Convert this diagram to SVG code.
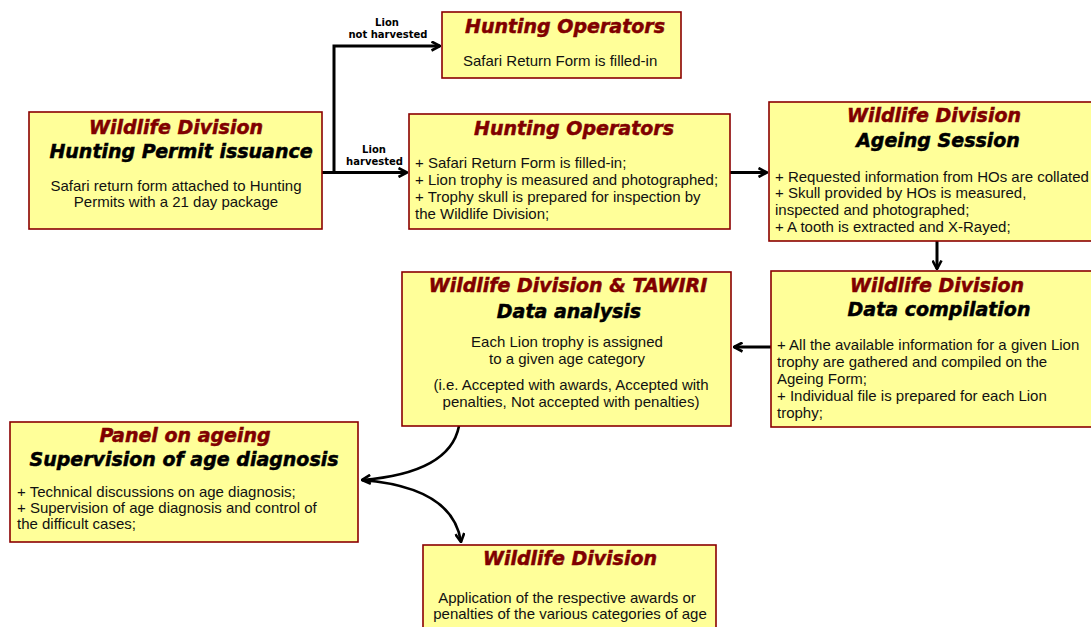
<svg xmlns="http://www.w3.org/2000/svg" width="1091" height="627" viewBox="0 0 1091 627">
<style>
.box{fill:#FFFF99;stroke:#8B0000;stroke-width:1.6}
.t1{font-family:"DejaVu Sans",sans-serif;font-weight:bold;font-style:italic;font-size:19px;fill:#800000;stroke:#800000;stroke-width:0.5;text-anchor:middle}
.t2{font-family:"DejaVu Sans",sans-serif;font-weight:bold;font-style:italic;font-size:19px;fill:#000;stroke:#000;stroke-width:0.5;text-anchor:middle}
.b{font-family:"Liberation Sans",Arial,sans-serif;font-size:15px;fill:#111}
.c{text-anchor:middle}
.lbl{font-family:"DejaVu Sans",sans-serif;font-weight:bold;font-size:10px;fill:#000;text-anchor:middle}
.ln{fill:none;stroke:#000;stroke-width:3}
.cv{fill:none;stroke:#000;stroke-width:2.6}
</style>
<defs>
<marker id="ah" viewBox="0 0 11 11" refX="10" refY="5.5" markerWidth="11" markerHeight="11" markerUnits="userSpaceOnUse" orient="auto">
<path d="M1.5,1 L10,5.5 L1.5,10" fill="none" stroke="#000" stroke-width="2.6"/>
</marker>
</defs>
<rect width="1091" height="627" fill="#fff"/>

<g id="connectors">
<path class="ln" d="M322,172.5 H407" marker-end="url(#ah)"/>
<path class="ln" d="M334,174 V46 H440" marker-end="url(#ah)"/>
<path class="ln" d="M730,172.5 H767" marker-end="url(#ah)"/>
<path class="ln" d="M937,241 V269" marker-end="url(#ah)"/>
<path class="ln" d="M771,347 H734" marker-end="url(#ah)"/>
<path class="cv" d="M459,426 C452,462 412,476 362,480" marker-end="url(#ah)"/>
<path class="cv" d="M362,480 C412,484 455,500 461,542" marker-end="url(#ah)"/>
<text class="lbl" x="387" y="26">Lion</text>
<text class="lbl" x="388" y="38">not harvested</text>
<text class="lbl" x="374" y="153">Lion</text>
<text class="lbl" x="374.5" y="165">harvested</text>
</g>

<g id="permit">
<rect class="box" x="29" y="112" width="293" height="117"/>
<text class="t1" x="176" y="134">Wildlife Division</text>
<text class="t2" x="181" y="158">Hunting Permit issuance</text>
<text class="b c" x="176" y="191">Safari return form attached to Hunting</text>
<text class="b c" x="176" y="207">Permits with a 21 day package</text>
</g>

<g id="ho-not-harvested">
<rect class="box" x="442" y="12" width="239" height="66"/>
<text class="t1" x="565" y="33">Hunting Operators</text>
<text class="b" x="463" y="66">Safari Return Form is filled-in</text>
</g>

<g id="ho-harvested">
<rect class="box" x="409" y="114" width="321" height="115"/>
<text class="t1" x="574" y="135">Hunting Operators</text>
<text class="b" x="415" y="168">+ Safari Return Form is filled-in;</text>
<text class="b" x="415" y="185">+ Lion trophy is measured and photographed;</text>
<text class="b" x="415" y="202">+ Trophy skull is prepared for inspection by</text>
<text class="b" x="415" y="219">the Wildlife Division;</text>
</g>

<g id="ageing">
<rect class="box" x="769" y="102" width="340" height="139"/>
<text class="t1" x="934" y="122">Wildlife Division</text>
<text class="t2" x="938" y="147">Ageing Session</text>
<text class="b" x="775" y="182">+ Requested information from HOs are collated</text>
<text class="b" x="775" y="198">+ Skull provided by HOs is measured,</text>
<text class="b" x="775" y="215">inspected and photographed;</text>
<text class="b" x="775" y="232">+ A tooth is extracted and X-Rayed;</text>
</g>

<g id="compilation">
<rect class="box" x="771" y="271" width="340" height="156"/>
<text class="t1" x="937" y="292">Wildlife Division</text>
<text class="t2" x="939" y="316">Data compilation</text>
<text class="b" x="777" y="350">+ All the available information for a given Lion</text>
<text class="b" x="777" y="367">trophy are gathered and compiled on the</text>
<text class="b" x="777" y="384">Ageing Form;</text>
<text class="b" x="777" y="401">+ Individual file is prepared for each Lion</text>
<text class="b" x="777" y="418">trophy;</text>
</g>

<g id="analysis">
<rect class="box" x="402" y="272" width="329" height="154"/>
<text class="t1" x="568" y="292">Wildlife Division &amp; TAWIRI</text>
<text class="t2" x="569" y="318">Data analysis</text>
<text class="b c" x="567" y="347">Each Lion trophy is assigned</text>
<text class="b c" x="567" y="364">to a given age category</text>
<text class="b c" x="571" y="390">(i.e. Accepted with awards, Accepted with</text>
<text class="b c" x="571" y="407">penalties, Not accepted with penalties)</text>
</g>

<g id="panel">
<rect class="box" x="10" y="422" width="348" height="120"/>
<text class="t1" x="185" y="442">Panel on ageing</text>
<text class="t2" x="184" y="466">Supervision of age diagnosis</text>
<text class="b" x="17" y="497">+ Technical discussions on age diagnosis;</text>
<text class="b" x="17" y="513">+ Supervision of age diagnosis and control of</text>
<text class="b" x="17" y="529">the difficult cases;</text>
</g>

<g id="application">
<rect class="box" x="423" y="545" width="293" height="100"/>
<text class="t1" x="570" y="565">Wildlife Division</text>
<text class="b c" x="567" y="603">Application of the respective awards or</text>
<text class="b c" x="570" y="619">penalties of the various categories of age</text>
</g>
</svg>
